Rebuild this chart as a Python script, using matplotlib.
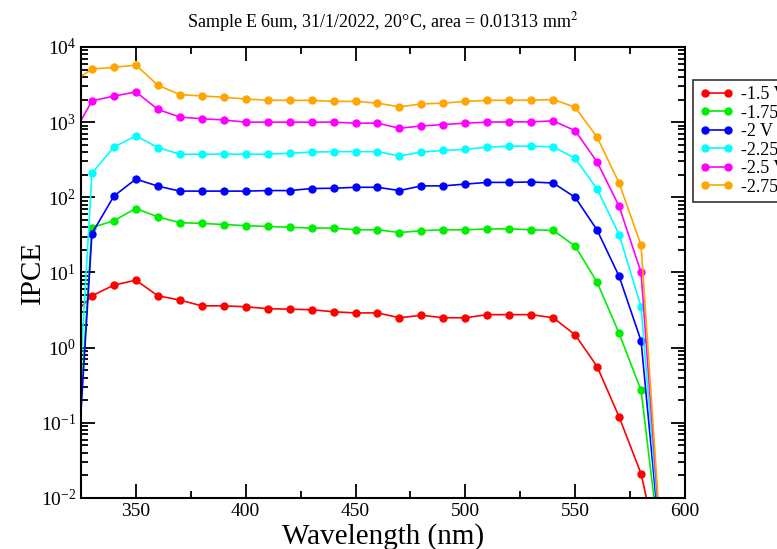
import numpy as np
from matplotlib import pyplot as plt
from matplotlib import ticker

plt.rcParams['font.family'] = ['Liberation Serif', 'DejaVu Serif']
plt.rcParams['mathtext.fontset'] = 'stix'

# wavelength grid (nm); 320 and 590 lie just outside the visible range
wavelength = [320, 330, 340, 350, 360, 370, 380, 390, 400, 410, 420, 430, 440, 450,
              460, 470, 480, 490, 500, 510, 520, 530, 540, 550, 560, 570, 580, 590]

ipce_1p5 = [2.45, 4.9, 6.8, 7.9, 4.9, 4.3, 3.6, 3.6, 3.5, 3.3, 3.25, 3.2, 3.0, 2.9,
            2.9, 2.5, 2.7, 2.5, 2.5, 2.75, 2.75, 2.75, 2.5, 1.48, 0.56, 0.12, 0.021, 1e-3]
ipce_1p75 = [1e-3, 39.5, 49, 71, 55, 46, 45, 43.5, 42, 41, 40, 39, 39, 37,
             37, 34, 36, 37, 37, 38, 38, 37, 36.3, 22.4, 7.4, 1.55, 0.27, 1e-3]
ipce_2 = [6e-4, 33, 104, 175, 141, 121, 121, 121, 121, 123, 123, 131, 132, 136,
          136, 123, 142, 142, 150, 158, 158, 160, 155, 100, 36.6, 8.9, 1.23, 1e-3]
ipce_2p25 = [2e-3, 210, 465, 660, 460, 375, 375, 375, 375, 375, 385, 400, 405, 405,
             405, 355, 400, 420, 435, 465, 480, 480, 470, 330, 129, 32, 3.5, 1e-3]
ipce_2p5 = [575, 1920, 2220, 2530, 1480, 1170, 1110, 1070, 1000, 1000, 1000, 1000, 1000, 970,
            970, 830, 890, 930, 970, 1000, 1010, 1010, 1040, 770, 295, 76, 10, 1e-3]
ipce_2p75 = [3200, 5100, 5350, 5750, 3100, 2330, 2230, 2150, 2030, 1960, 1950, 1950, 1890, 1890,
             1790, 1600, 1750, 1790, 1890, 1950, 1960, 1960, 2000, 1580, 630, 155, 23, 1e-3]

labels = ['-1.5 V', '-1.75 V', '-2 V', '-2.25 V', '-2.5 V', '-2.75 V']
series = [ipce_1p5, ipce_1p75, ipce_2, ipce_2p25, ipce_2p5, ipce_2p75]
colors = ['#ff0000', '#00ee00', '#0000ff', '#00ffff', '#ff00ff', '#ffa500']

fig = plt.figure(figsize=(7.77, 5.49), dpi=100)
ax = fig.add_axes([0.1042, 0.0929, 0.7774, 0.8215])

for vals, lab, col in zip(series, labels, colors):
    ax.plot(wavelength, vals, '-o', color=col, lw=1.2, ms=5, label=lab)

ax.set_yscale('log')
ax.set_xlim(325, 600)
ax.set_ylim(1e-2, 1e4)
ax.xaxis.set_major_locator(ticker.MultipleLocator(50))
ax.xaxis.set_minor_locator(ticker.MultipleLocator(25))
ax.yaxis.set_major_locator(ticker.LogLocator(base=10, numticks=10))
ax.yaxis.set_minor_locator(ticker.LogLocator(base=10, subs=np.arange(2, 10), numticks=10))
ax.yaxis.set_minor_formatter(ticker.NullFormatter())

ax.tick_params(which='both', direction='in', top=True, right=True, width=1.3)
ax.tick_params(which='major', length=10, labelsize=14)
ax.tick_params(which='minor', length=5)
for s in ax.spines.values():
    s.set_linewidth(1.5)

ax.set_xlabel('Wavelength (nm)', fontsize=21, labelpad=2)
ax.set_ylabel('IPCE', fontsize=21, labelpad=-4)
ax.set_title('Sample E 6um, 31/1/2022, 20\u00b0C, area = 0.01313 mm$^2$',
             fontsize=13, pad=14)

leg = fig.legend(loc='upper left', bbox_to_anchor=(693 / 777, 1 - 80 / 549),
                 numpoints=2, fontsize=13, frameon=True, fancybox=False,
                 borderpad=0.35, labelspacing=0.08, handlelength=1.9, handletextpad=0.4,
                 borderaxespad=0)
leg.get_frame().set_edgecolor('black')
leg.get_frame().set_linewidth(1.2)

plt.savefig('out.png', dpi=100)
